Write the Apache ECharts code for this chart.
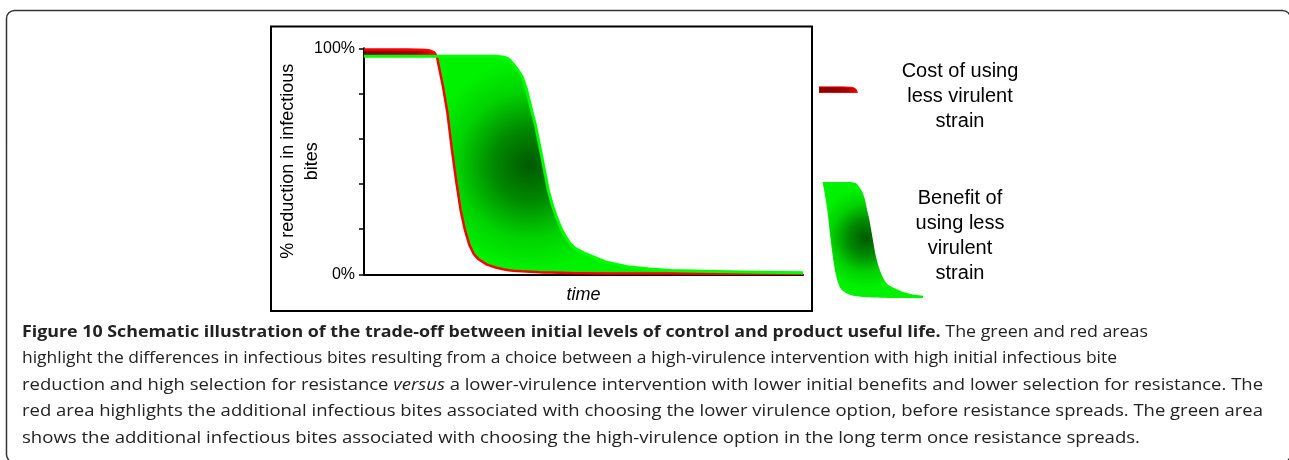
<!DOCTYPE html>
<html>
<head>
<meta charset="utf-8">
<script src="https://cdn.jsdelivr.net/npm/echarts@6/dist/echarts.min.js"></script>
<style>
html, body { margin: 0; padding: 0; background: #fff; }
#main { width: 1289px; height: 460px; }
</style>
</head>
<body>
<div id="main"></div>
<script>
// time (no units on the axis) and % reduction in infectious bites
var times = [0, 5, 10, 14, 15, 16, 16.6, 17, 18, 19, 20, 21, 22, 23, 24, 25, 26, 28, 30,
  32, 33, 34, 35, 36, 37, 38, 39, 40, 41, 42, 43, 44, 45, 46, 47, 48,
  50, 55, 60, 65, 70, 80, 90, 100];
// high-virulence intervention (red curve)
var highVirulence = [99.5, 99.5, 99.5, 99.3, 99.0, 98.2, 96.5, 92.5, 83, 71.5, 55.5, 41.3, 28.5, 19.5, 13, 9, 6.8, 4.3, 3.0,
  2.1, 1.8, 1.6, 1.45, 1.3, 1.2, 1.1, 1.0, 0.9, 0.85, 0.8, 0.75, 0.7, 0.65, 0.6, 0.55, 0.5,
  0.5, 0.4, 0.3, 0.3, 0.3, 0.2, 0.2, 0.2];
// lower-virulence intervention (green curve)
var lowVirulence = [96.5, 96.5, 96.5, 96.5, 96.5, 96.5, 96.5, 96.5, 96.5, 96.5, 96.5, 96.5, 96.5, 96.5, 96.5, 96.5, 96.5, 96.5, 96.5,
  96.0, 95.2, 93, 90.5, 87.5, 82, 74, 66.5, 57, 47, 37, 30, 24.5, 19.8, 16.3, 13.5, 11.6,
  9.5, 5.5, 3.4, 2.3, 1.7, 1.2, 0.9, 0.7];
var yTicks = [0, 20, 40, 60, 80, 100];
var yTickLabels = { 0: "0%", 100: "100%" };

var costLabel = "Cost of using\nless virulent\nstrain";
var benefitLabel = "Benefit of\nusing less\nvirulent\nstrain";
var captionLines = [
  "{b|Figure 10 Schematic illustration of the trade-off between initial levels of control and product useful life.} The green and red areas",
  "highlight the differences in infectious bites resulting from a choice between a high-virulence intervention with high initial infectious bite",
  "reduction and high selection for resistance {i|versus} a lower-virulence intervention with lower initial benefits and lower selection for resistance. The",
  "red area highlights the additional infectious bites associated with choosing the lower virulence option, before resistance spreads. The green area",
  "shows the additional infectious bites associated with choosing the high-virulence option in the long term once resistance spreads."
];
var captionEnds = [1148, 1117, 1263, 1263, 1140];

var chart = echarts.init(document.getElementById("main"));

function pairs(arr) {
  return times.map(function (t, i) { return [t, arr[i]]; });
}
// index where the two curves meet
var cross = highVirulence.findIndex(function (h, i) { return h <= lowVirulence[i]; });
var iconEnd = times.indexOf(65);

var G = echarts.graphic;
function redFill(x0, x1) {
  return new G.LinearGradient(x0, 0, x1, 0, [
    { offset: 0, color: "#7a0000" },
    { offset: 0.7, color: "#a50000" },
    { offset: 1, color: "#ff0000" }
  ], true);
}
function greenFill(cx, cy, r) {
  return new G.RadialGradient(cx, cy, r, [
    { offset: 0, color: "#005a00" },
    { offset: 0.35, color: "#008a00" },
    { offset: 0.7, color: "#00d400" },
    { offset: 1, color: "#00f200" }
  ], true);
}

// area between two curves, drawn through the axis scales
function band(idx, upper, lower, from, to, fill, stroke) {
  return {
    type: "custom", coordinateSystem: "cartesian2d", xAxisIndex: idx, yAxisIndex: idx,
    data: [[times[from], upper[from]]], silent: true, clip: true,
    renderItem: function (params, api) {
      var pts = [];
      for (var i = from; i <= to; i++) pts.push(api.coord([times[i], upper[i]]));
      for (var j = to; j >= from; j--) pts.push(api.coord([times[j], lower[j]]));
      return {
        type: "polygon", shape: { points: pts },
        style: { fill: fill, stroke: stroke || null, lineWidth: stroke ? 1 : 0 }
      };
    }
  };
}

var last = times.length - 1;
var series = [
  band(0, highVirulence, lowVirulence, 0, cross, redFill(364, 437)),
  band(0, lowVirulence, highVirulence, cross, last, greenFill(530, 165, 105)),
  {
    type: "line", data: pairs(highVirulence), symbol: "none",
    lineStyle: { color: "#ff0000", width: 2.5, join: "round" }, silent: true
  },
  {
    type: "line", data: pairs(lowVirulence), symbol: "none",
    lineStyle: { color: "#00ff00", width: 3, join: "round" }, silent: true
  },
  // legend swatches: the same bands in small grids
  band(1, highVirulence, lowVirulence, 0, cross, redFill(819, 858), "#e00000"),
  band(2, lowVirulence, highVirulence, cross, iconEnd, greenFill(866, 238, 50))
];

var captionFont = "Open Sans";
var mctx = document.createElement("canvas").getContext("2d");
function lineWidth(txt, size) {
  var w = 0;
  var re = /\{(\w)\|([^}]*)\}|([^{]+)/g, m;
  while ((m = re.exec(txt))) {
    var f = size + 'px "' + captionFont + '"';
    var s = m[3];
    if (m[1] === "b") { f = "bold " + f; s = m[2]; }
    if (m[1] === "i") { f = "italic " + f; s = m[2]; }
    mctx.font = f;
    w += mctx.measureText(s).width;
  }
  return w;
}

var graphics = [
  {
    type: "rect", silent: true,
    shape: { x: 6.5, y: 10.5, width: 1284, height: 452, r: 8 },
    style: { fill: "none", stroke: "#333", lineWidth: 1.5 }
  },
  {
    type: "rect", silent: true,
    shape: { x: 271, y: 26.5, width: 541, height: 284.5 },
    style: { fill: "none", stroke: "#000", lineWidth: 2 }
  },
  {
    type: "text", x: 960, y: 59,
    style: { text: costLabel, fontSize: 20, lineHeight: 25, fontFamily: "Liberation Sans", fill: "#000", align: "center", verticalAlign: "top" }
  },
  {
    type: "text", x: 960, y: 186,
    style: { text: benefitLabel, fontSize: 20, lineHeight: 25, fontFamily: "Liberation Sans", fill: "#000", align: "center", verticalAlign: "top" }
  }
];
captionLines.forEach(function (txt, i) {
  var size = 16;
  var sx = (captionEnds[i] - 22) / lineWidth(txt, size);
  graphics.push({
    type: "text", x: 22, y: 332 + i * 26.5, scaleX: sx,
    style: {
      text: txt, fontSize: size, fontFamily: captionFont, fill: "#222",
      align: "left", verticalAlign: "middle",
      rich: {
        b: { fontSize: size, fontFamily: captionFont, fontWeight: "bold", fill: "#222" },
        i: { fontSize: size, fontFamily: captionFont, fontStyle: "italic", fill: "#222" }
      }
    }
  });
});

var option = {
  animation: false,
  backgroundColor: "#fff",
  grid: [
    { left: 364, top: 48.3, width: 439, height: 226, outerBoundsMode: "none" },
    { left: 819, top: 86, width: 40, height: 183, outerBoundsMode: "none" },
    { left: 822, top: 177.8, width: 101, height: 120.7, outerBoundsMode: "none" }
  ],
  xAxis: [
    {
      gridIndex: 0, type: "value", min: 0, max: 100,
      axisLine: { lineStyle: { color: "#000", width: 2 } },
      axisTick: { show: false }, axisLabel: { show: false }, splitLine: { show: false },
      name: "time", nameLocation: "middle", nameGap: 12, nameMoveOverlap: false,
      nameTextStyle: { fontStyle: "italic", fontSize: 18, fontFamily: "Liberation Sans", color: "#000", verticalAlign: "top" }
    },
    { gridIndex: 1, type: "value", min: 0, max: 17.3, show: false },
    { gridIndex: 2, type: "value", min: 16.3, max: 65, show: false }
  ],
  yAxis: [
    {
      gridIndex: 0, type: "value", min: yTicks[0], max: yTicks[yTicks.length - 1], interval: yTicks[1] - yTicks[0],
      axisLine: { show: true, lineStyle: { color: "#000", width: 2 } },
      axisTick: { show: true, length: 5, lineStyle: { color: "#000", width: 1.5 } },
      axisLabel: {
        margin: 9, fontSize: 16, fontFamily: "Liberation Sans", color: "#000",
        formatter: function (v) { return yTickLabels[v] || ""; }
      },
      splitLine: { show: false },
      name: "% reduction in infectious\nbites", nameLocation: "middle", nameRotate: 90, nameGap: 40,
      nameMoveOverlap: false,
      nameTextStyle: { fontSize: 18, lineHeight: 24, fontFamily: "Liberation Sans", color: "#000", align: "center" }
    },
    { gridIndex: 1, type: "value", min: 0, max: 100, show: false },
    { gridIndex: 2, type: "value", min: 0, max: 100, show: false }
  ],
  graphic: graphics,
  series: series
};

chart.setOption(option);
</script>
</body>
</html>
